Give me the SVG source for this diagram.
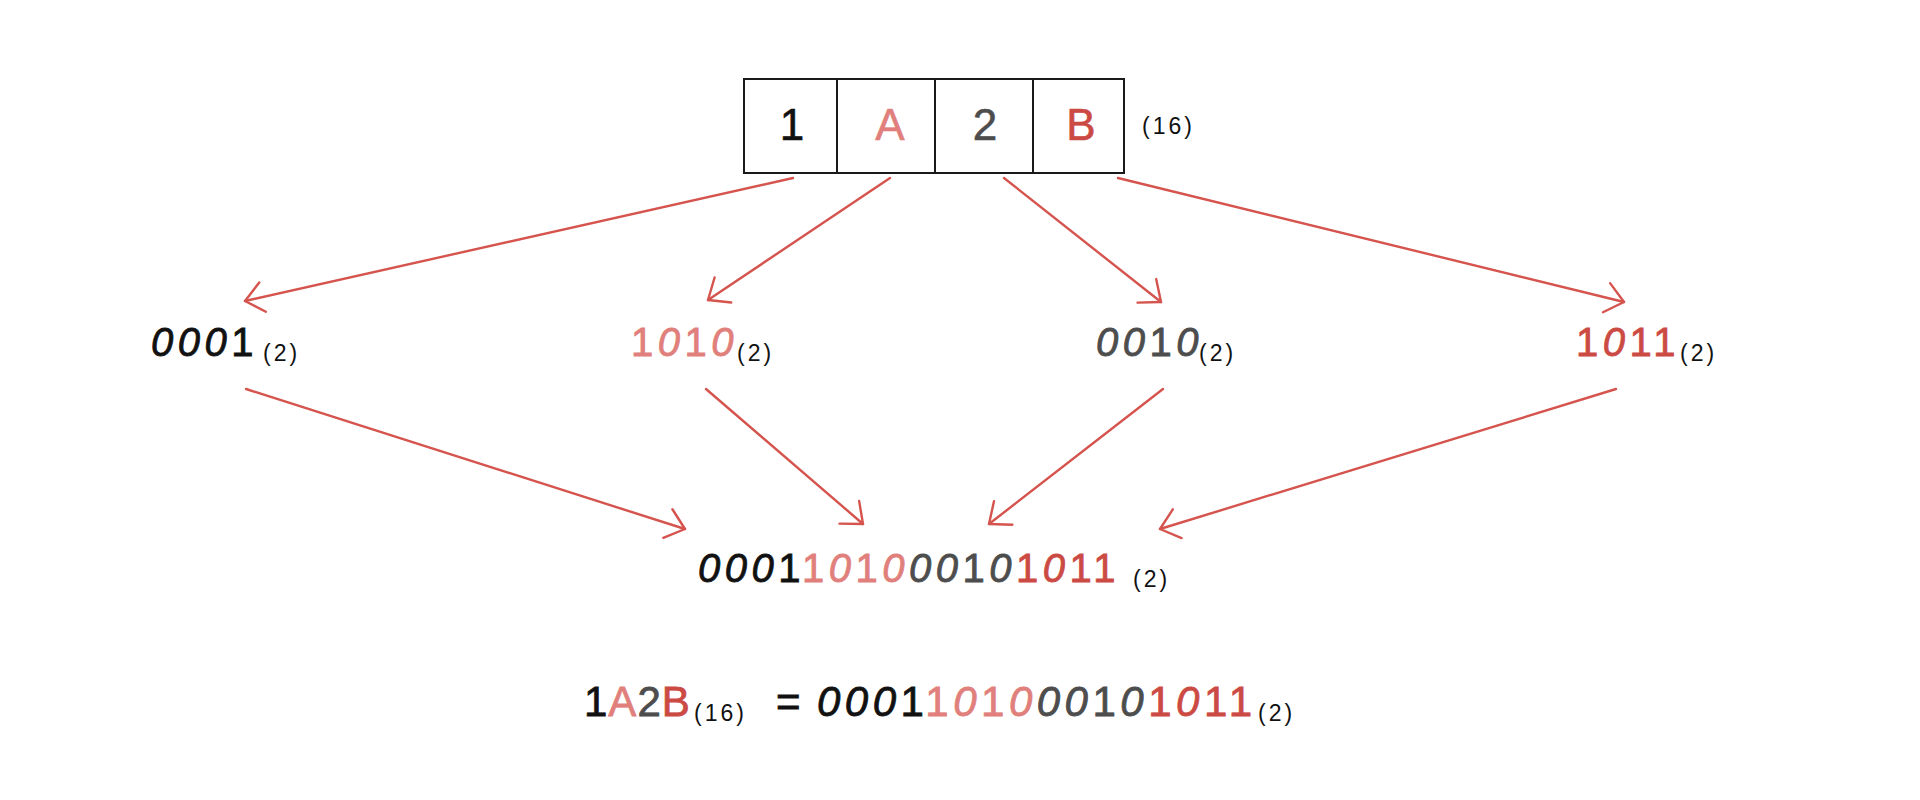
<svg xmlns="http://www.w3.org/2000/svg" width="1920" height="800" viewBox="0 0 1920 800">
<style>
text{font-family:"Liberation Sans",Arial,sans-serif}
.big{font-size:44px;stroke-width:0.6}
.d{font-size:40px;letter-spacing:4.5px;stroke-width:0.8}
.d2{font-size:42px;letter-spacing:4.5px;stroke-width:0.8}
.sub{font-size:23px;letter-spacing:3px;fill:#111}
.z{font-style:italic}
.k{fill:#111;stroke:#111}.p{fill:#e07f7b;stroke:#e07f7b}.g{fill:#4d4d4d;stroke:#4d4d4d}.r{fill:#cc4a44;stroke:#cc4a44}
.cell{fill:#fff;stroke:#1a1a1a;stroke-width:2}
.conn{fill:none;stroke:#d5544e;stroke-width:2.4;stroke-linecap:round;marker-end:url(#chev)}
</style>
<defs>
<marker id="chev" markerUnits="userSpaceOnUse" viewBox="-22 -18 26 36" markerWidth="26" markerHeight="36" refX="0" refY="0" orient="auto">
<path d="M-18,-15 L0,0 L-18,15" fill="none" stroke="#d5544e" stroke-width="2.4" stroke-linecap="round" stroke-linejoin="round"/>
</marker>
</defs>
<rect width="1920" height="800" fill="#fff"/>
<g id="hex-box">
<rect class="cell" x="744" y="79" width="93" height="94"/>
<rect class="cell" x="837" y="79" width="98" height="94"/>
<rect class="cell" x="935" y="79" width="98" height="94"/>
<rect class="cell" x="1033" y="79" width="91" height="94"/>
<text class="big k" x="792" y="140" text-anchor="middle">1</text>
<text class="big p" x="890" y="140" text-anchor="middle">A</text>
<text class="big g" x="985" y="140" text-anchor="middle">2</text>
<text class="big r" x="1081" y="140" text-anchor="middle">B</text>
<text class="sub" x="1142" y="134">(16)</text>
</g>
<g id="bin-1">
<text class="d k" x="151" y="356"><tspan class="z">000</tspan>1</text>
<text class="sub" x="263" y="361">(2)</text>
</g>
<g id="bin-A">
<text class="d p" x="631" y="356">1<tspan class="z">0</tspan>1<tspan class="z">0</tspan></text>
<text class="sub" x="737" y="361">(2)</text>
</g>
<g id="bin-2">
<text class="d g" x="1096" y="356"><tspan class="z">00</tspan>1<tspan class="z">0</tspan></text>
<text class="sub" x="1199" y="361">(2)</text>
</g>
<g id="bin-B">
<text class="d r" x="1576" y="356">1<tspan class="z">0</tspan>11</text>
<text class="sub" x="1680" y="361">(2)</text>
</g>
<g id="result">
<text class="d" x="698" y="582"><tspan class="k"><tspan class="z">000</tspan>1</tspan><tspan class="p">1<tspan class="z">0</tspan>1<tspan class="z">0</tspan></tspan><tspan class="g"><tspan class="z">00</tspan>1<tspan class="z">0</tspan></tspan><tspan class="r">1<tspan class="z">0</tspan>11</tspan></text>
<text class="sub" x="1133" y="587">(2)</text>
</g>
<g id="equation">
<text class="d2" x="584" y="716" style="letter-spacing:1px"><tspan class="k">1</tspan><tspan class="p">A</tspan><tspan class="g">2</tspan><tspan class="r">B</tspan></text>
<text class="sub" x="694" y="721">(16)</text>
<text class="d2 k" x="776" y="716">=</text>
<text class="d2" x="817" y="716"><tspan class="k"><tspan class="z">000</tspan>1</tspan><tspan class="p">1<tspan class="z">0</tspan>1<tspan class="z">0</tspan></tspan><tspan class="g"><tspan class="z">00</tspan>1<tspan class="z">0</tspan></tspan><tspan class="r">1<tspan class="z">0</tspan>11</tspan></text>
<text class="sub" x="1258" y="721">(2)</text>
</g>
<g id="connectors">
<path class="conn" d="M793,178 L245,301"/>
<path class="conn" d="M890,178 L708,300"/>
<path class="conn" d="M1004,178 L1161,302"/>
<path class="conn" d="M1118,178 L1624,302"/>
<path class="conn" d="M246,389 L685,529"/>
<path class="conn" d="M706,389 L863,524"/>
<path class="conn" d="M1163,389 L989,524"/>
<path class="conn" d="M1616,389 L1160,529"/>
</g>
</svg>
